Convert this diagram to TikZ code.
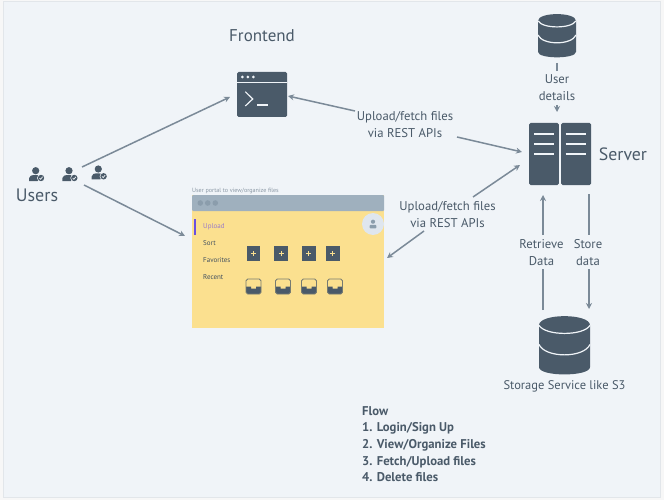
\documentclass[tikz,border=0pt]{standalone}
\usepackage{fontspec}
\setmainfont{PT Sans}
\usetikzlibrary{arrows.meta,calc}
\definecolor{bgc}{HTML}{F0F4F8}
\definecolor{outerc}{HTML}{F7F7F7}
\definecolor{edgec}{HTML}{E2E6EA}
\definecolor{darkc}{HTML}{4A5A69}
\definecolor{arrowc}{HTML}{7B8A98}
\definecolor{headerc}{HTML}{9FB0BE}
\definecolor{dotc}{HTML}{8B9DAC}
\definecolor{yellowc}{HTML}{FBE08F}
\definecolor{avatarc}{HTML}{DFE6EE}
\definecolor{purplec}{HTML}{6A4FE0}
\definecolor{uploadc}{HTML}{9A7BC8}
\definecolor{captionc}{HTML}{8B98A5}
\tikzset{
  x=1pt,y=-1pt,
  lbl/.style={text=darkc,font=\fontsize{12.7}{17}\selectfont,align=center,inner sep=0pt},
  big/.style={text=darkc,inner sep=0pt},
  menu/.style={text=darkc!90!black,font=\fontsize{7}{8}\selectfont,anchor=west,inner sep=0pt},
  flowtxt/.style={text=darkc,font=\fontsize{12.7}{16.7}\selectfont\bfseries,align=left,anchor=north west,inner sep=0pt},
  conn/.style={draw=arrowc,line width=1.5pt,-{Stealth[length=6pt,width=6pt]}},
  connplain/.style={draw=arrowc,line width=1.5pt},
  solid box/.style={fill=darkc,rounded corners=1.5pt,inner sep=0pt,outer sep=0pt},
  ghost/.style={inner sep=0pt,outer sep=0pt},
}
\newcommand{\dbicon}[5]{% name cx cy w h
  \node[ghost,minimum width=#4pt,minimum height=#5pt] (#1) at (#2,#3) {};
  \begin{scope}[shift={(#2-#4/2,#3-#5/2)},x=#4pt,y=-#5pt]
    \fill[darkc] (0,.16) .. controls (0,-.05) and (1,-.05) .. (1,.16) -- (1,.88) .. controls (1,1.05) and (0,1.05) .. (0,.88) -- cycle;
    \draw[bgc,line width=1.2pt] (0,.16) .. controls (.12,.347) and (.88,.347) .. (1,.16);
    \draw[bgc,line width=1.2pt] (0,.49) .. controls (.12,.73) and (.88,.73) .. (1,.49);
  \end{scope}}
\newcommand{\usericon}[3]{% name headx heady
  \node[ghost,minimum width=16pt,minimum height=15pt] (#1) at (#2+2,#3+3.5) {};
  \fill[darkc] (#2,#3) circle (3.6);
  \fill[darkc] (#2-6.7,#3+10.3) -- (#2-6.7,#3+7.5) .. controls (#2-6.7,#3+5) and (#2-4,#3+4.3) .. (#2,#3+4.3) .. controls (#2+3,#3+4.3) and (#2+4.5,#3+5) .. (#2+5,#3+6) -- (#2+2,#3+10.3) -- cycle;
  \fill[bgc] (#2+5.3,#3+7.3) circle (3.9);
  \fill[darkc] (#2+5.3,#3+7.3) circle (3.2);
  \draw[bgc,line width=.7pt] (#2+3.8,#3+7.4) -- (#2+4.9,#3+8.6) -- (#2+6.9,#3+6.1);}
\newcommand{\plusbox}[2]{% left top
  \fill[darkc] (#1,#2) rectangle (#1+13.5,#2+15);
  \draw[yellowc,line width=1pt] (#1+4.2,#2+7.5) -- (#1+9.3,#2+7.5) (#1+6.75,#2+5) -- (#1+6.75,#2+10);}
\newcommand{\traybox}[2]{% left top
  \fill[darkc] (#1,#2+7.5) -- (#1+5,#2+7.5) -- (#1+5,#2+9.7) -- (#1+10,#2+9.7) -- (#1+10,#2+7.5) -- (#1+15,#2+7.5) -- (#1+15,#2+13.5) -- (#1+13.5,#2+15) -- (#1+1.5,#2+15) -- (#1,#2+13.5) -- cycle;
  \draw[darkc!75!yellowc,line width=.9pt,rounded corners=1.8pt] (#1,#2) rectangle (#1+15,#2+15);}
\begin{document}
\begin{tikzpicture}
\useasboundingbox (0,0) rectangle (664,500);
\fill[outerc] (0,0) rectangle (664,500);
\filldraw[fill=bgc,draw=edgec,line width=.8pt] (3,1.5) rectangle (660.5,497.5);

% Frontend
\node[big,font=\fontsize{17}{19}\selectfont] (frontendlabel) at (262,36) {Frontend};
\node[solid box,minimum width=50pt,minimum height=45pt] (terminal) at (262,94.5) {};
\draw[bgc,line width=1.1pt] (237,82.6) -- (287,82.6);
\foreach \dx in {242.4,247.8,253.4} \fill[bgc] (\dx,77) circle (1.5);
\draw[bgc,line width=1.2pt] (245.3,91.7) -- (252.7,99) -- (245.3,106);
\draw[bgc,line width=1.2pt] (257,105) -- (268,105);

% Users
\usericon{userA}{35.7}{170.7}
\usericon{userB}{69}{170.7}
\usericon{userC}{98.3}{169}
\node[big,font=\fontsize{18}{20}\selectfont] (userslabel) at (37,195) {Users};

% Portal
\node[anchor=south west,inner sep=0pt,text=captionc,font=\fontsize{6.1}{7}\selectfont] (caption) at (192,193.5) {User portal to view/organize files};
\node[fill=yellowc,minimum width=192pt,minimum height=133pt,inner sep=0pt,outer sep=0pt] (portal) at (288,261.5) {};
\fill[headerc,rounded corners=1pt] (192,211) -- (192,195) -- (384,195) -- (384,211) -- cycle;
\foreach \dx in {200.3,207.7,215.3} \fill[dotc] (\dx,203) circle (2.8);
\fill[avatarc] (373,224) circle (11);
\fill[dotc] (373,221.7) circle (2.1);
\fill[dotc,rounded corners=.8pt] (369.7,228.3) rectangle (376.3,224.8);
\fill[purplec] (194,219) rectangle (195.6,235);
\node[menu,text=uploadc] (mUpload) at (203,227) {Upload};
\node[menu] (mSort) at (203,243.5) {Sort};
\node[menu] (mFav) at (203,260) {Favorites};
\node[menu] (mRecent) at (203,276.7) {Recent};
\plusbox{246.5}{246}\plusbox{274.3}{246}\plusbox{302}{246}\plusbox{326}{246}
\traybox{246}{279}\traybox{275.5}{279}\traybox{301.5}{279}\traybox{327.5}{279}

% Server
\node[ghost,minimum width=62pt,minimum height=62pt] (server) at (560,154) {};
\fill[darkc,rounded corners=1.5pt] (529,123) rectangle (558.8,185);
\fill[darkc,rounded corners=1.5pt] (561,123) rectangle (591,185);
\foreach \ly in {134,144,154} {
  \draw[bgc,line width=1.2pt] (534,\ly) -- (554,\ly);
  \draw[bgc,line width=1.2pt] (565.5,\ly) -- (586,\ly);
}
\node[big,font=\fontsize{17.8}{20}\selectfont] (serverlabel) at (623,154) {Server};

% Databases
\dbicon{userdb}{557}{35.5}{38}{43}
\dbicon{storage}{564.5}{345}{51}{58}
\node[text=darkc,inner sep=0pt,font=\fontsize{12.5}{14}\selectfont] (storagelabel) at (564.5,386) {Storage Service like S3};

% Labels
\node[lbl] (userdetails) at (557,87.5) {User\\details};
\node[lbl] (rest1) at (405,124.5) {Upload/fetch files\\via REST APIs};
\node[lbl] (rest2) at (447.5,214.5) {Upload/fetch files\\via REST APIs};
\node[lbl] (retrieve) at (541.5,252.5) {Retrieve\\Data};
\node[lbl] (store) at (588,252.5) {Store\\data};

% Connectors
\draw[conn] ([shift={(11,-7.2)}]userB.center) -- ([shift={(-32,2.5)}]terminal.center);
\draw[conn] ([shift={(13,10.8)}]userB.center) -- ([shift={(-103,-25.5)}]portal.center);
\draw[conn] ([shift={(-50,-13.5)}]rest1.center) -- ([shift={(1,1.5)}]terminal.east);
\draw[conn] ([shift={(52,12.5)}]rest1.center) -- ([shift={(-38,-2)}]server.center);
\draw[conn] ([shift={(25.5,-17.5)}]rest2.center) -- ([shift={(-40,11)}]server.center);
\draw[conn] ([shift={(-23.5,16.5)}]rest2.center) -- ([shift={(99,-3.5)}]portal.center);
\draw[connplain] ([shift={(0,27.5)}]userdb.center) -- ([shift={(0,-16.5)}]userdetails.center);
\draw[conn,line width=1.3pt] ([shift={(0,17.5)}]userdetails.center) -- ([shift={(-3,-42)}]server.center);
\draw[connplain] ([shift={(-21.5,-35)}]storage.center) -- ([shift={(1.5,16.5)}]retrieve.center);
\draw[conn] ([shift={(1.5,-17.5)}]retrieve.center) -- ([shift={(-17,41)}]server.center);
\draw[connplain] ([shift={(29,40)}]server.center) -- ([shift={(1,-17.5)}]store.center);
\draw[conn] ([shift={(1,16.5)}]store.center) -- ([shift={(24.5,-36)}]storage.center);

% Flow
\node[flowtxt] (flow) at (362,406) {Flow\\1. Login/Sign Up\\2. View/Organize Files\\3. Fetch/Upload files\\4. Delete files};
\end{tikzpicture}
\end{document}
